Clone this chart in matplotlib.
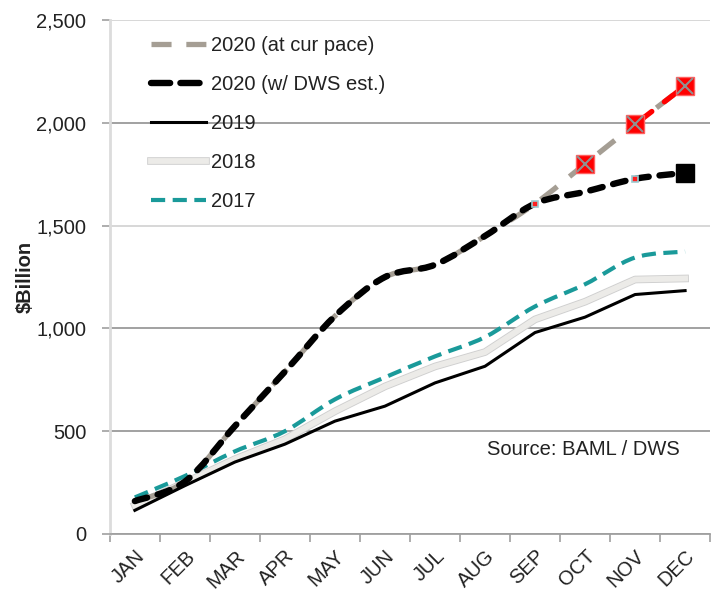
import matplotlib.pyplot as plt
import matplotlib.patheffects as pe
from matplotlib.path import Path
from matplotlib.patches import PathPatch
from matplotlib.lines import Line2D
import numpy as np

months = ["JAN", "FEB", "MAR", "APR", "MAY", "JUN",
          "JUL", "AUG", "SEP", "OCT", "NOV", "DEC"]

# $Billion, cumulative by month
y2020_pace = [160, 255, 525, 790, 1060, 1250, 1310, 1450, 1607, 1800, 1993, 2180]
y2020_dws = [160, 255, 525, 790, 1060, 1250, 1310, 1450, 1607, 1665, 1728, 1757]
y2019 = [115, 235, 350, 437, 549, 622, 735, 816, 980, 1055, 1165, 1184]
y2018 = [140, 250, 364, 461, 597, 718, 815, 885, 1044, 1130, 1238, 1243]
y2017 = [178, 282, 402, 500, 655, 762, 864, 958, 1107, 1215, 1345, 1374]

plt.rcParams['font.family'] = ['Liberation Sans', 'DejaVu Sans']
plt.rcParams['font.size'] = 14.5


def smooth(xs, ys):
    # excel-style smoothed line: catmull-rom segments as cubic beziers
    p = np.column_stack([xs, ys]).astype(float)
    pad = np.vstack([p[:1], p, p[-1:]])
    verts = [p[0]]
    codes = [Path.MOVETO]
    for i in range(len(p) - 1):
        p0, p1, p2, p3 = pad[i], pad[i + 1], pad[i + 2], pad[i + 3]
        verts += [p1 + (p2 - p0) / 6, p2 - (p3 - p1) / 6, p2]
        codes += [Path.CURVE4] * 3
    return Path(verts, codes)


def curve(ax, xs, ys, **kw):
    patch = PathPatch(smooth(xs, ys), fill=False, **kw)
    ax.add_patch(patch)
    return patch


fig = plt.figure(figsize=(7.18, 5.92), dpi=100)
ax = fig.add_axes([0.153, 0.098, 0.836, 0.868])
x = np.arange(len(months))

gray = "#a59e94"
teal = "#1a9a9a"
light = [pe.Stroke(linewidth=5.5, foreground="#cfcfcf"), pe.Normal()]

curve(ax, x, y2020_pace, ec=gray, lw=3.8, linestyle=(0, (4, 3)), zorder=3)
curve(ax, x[10:], y2020_pace[10:], ec="#ff0000", lw=3.8,
      linestyle=(0, (4, 3)), capstyle="round", zorder=3)
curve(ax, x, y2020_dws, ec="black", lw=4.6, linestyle=(0, (2.0, 1.7)),
      capstyle="round", zorder=5)
ax.plot(x, y2019, color="black", lw=2.2, zorder=4)
ax.plot(x, y2018, color="#ecebe8", lw=4.2, zorder=2, path_effects=light)
curve(ax, x, y2017, ec=teal, lw=3, linestyle=(0, (3.4, 1.8)), zorder=3)

# markers
ax.plot(x[9:], y2020_pace[9:], ls="none", marker="s", ms=12.5, mfc="#ff0000",
        mec="#ff6060", zorder=6)
ax.plot(x[9:], y2020_pace[9:], ls="none", marker="x", ms=11, mec="#909090",
        mew=1.5, zorder=7)
ax.plot(x[11:], y2020_dws[11:], ls="none", marker="s", ms=12.5, color="black", zorder=6)
ax.plot([x[8], x[10]], [y2020_dws[8], y2020_dws[10]], ls="none", marker="s", ms=5,
        mfc="#ff2020", mec="#9cc9d0", mew=1.2, zorder=6)

ax.set_xlim(-0.5, 11.5)
ax.set_ylim(0, 2500)
ax.set_yticks([0, 500, 1000, 1500, 2000, 2500])
ax.set_yticklabels(["0", "500", "1,000", "1,500", "2,000", "2,500"])
ax.set_xticks(x)
ax.set_xticklabels(months, rotation=45, ha="right", rotation_mode="anchor")
ax.set_xticks(np.arange(-0.5, 12, 1), minor=True)
ax.tick_params(axis="x", which="major", length=0, pad=9, colors="#222222")
ax.tick_params(axis="x", which="minor", length=6, width=1.2, color="#a0a0a0")
ax.tick_params(axis="y", length=6, width=1.2, color="#a0a0a0", pad=11,
               labelcolor="#222222")

ax.yaxis.grid(True, color="#9a9a9a", lw=1.3)
gl = ax.yaxis.get_gridlines()
for i in (3, 5):
    gl[i].set_color("#d4d4d4")
ax.set_axisbelow(True)

for s in ("top", "right"):
    ax.spines[s].set_visible(False)
ax.spines["left"].set_color("#dcdcdc")
ax.spines["left"].set_linewidth(2)
ax.spines["bottom"].set_color("#a0a0a0")
ax.spines["bottom"].set_linewidth(1.3)

ax.set_ylabel("$Billion", fontweight="bold", labelpad=1, color="#222222")

ax.text(0.95, 0.165, "Source: BAML / DWS", transform=ax.transAxes,
        ha="right", va="center", color="#222222")

handles = [
    Line2D([], [], color=gray, lw=3.8, dashes=(3.8, 2.8)),
    Line2D([], [], color="black", lw=4.6, dashes=(3.0, 1.6), dash_capstyle="round"),
    Line2D([], [], color="black", lw=2.2),
    Line2D([], [], color="#ecebe8", lw=4.2, path_effects=light),
    Line2D([], [], color=teal, lw=3, dashes=(3.4, 1.8)),
]
labels = ["2020 (at cur pace)", "2020 (w/ DWS est.)", "2019", "2018", "2017"]
leg = ax.legend(handles, labels, loc="upper left", bbox_to_anchor=(0.055, 0.985),
                frameon=False, handlelength=2.75, handletextpad=0.25,
                labelspacing=1.0, borderaxespad=0)
for t in leg.get_texts():
    t.set_color("#222222")

fig.savefig("out.png", dpi=100)
